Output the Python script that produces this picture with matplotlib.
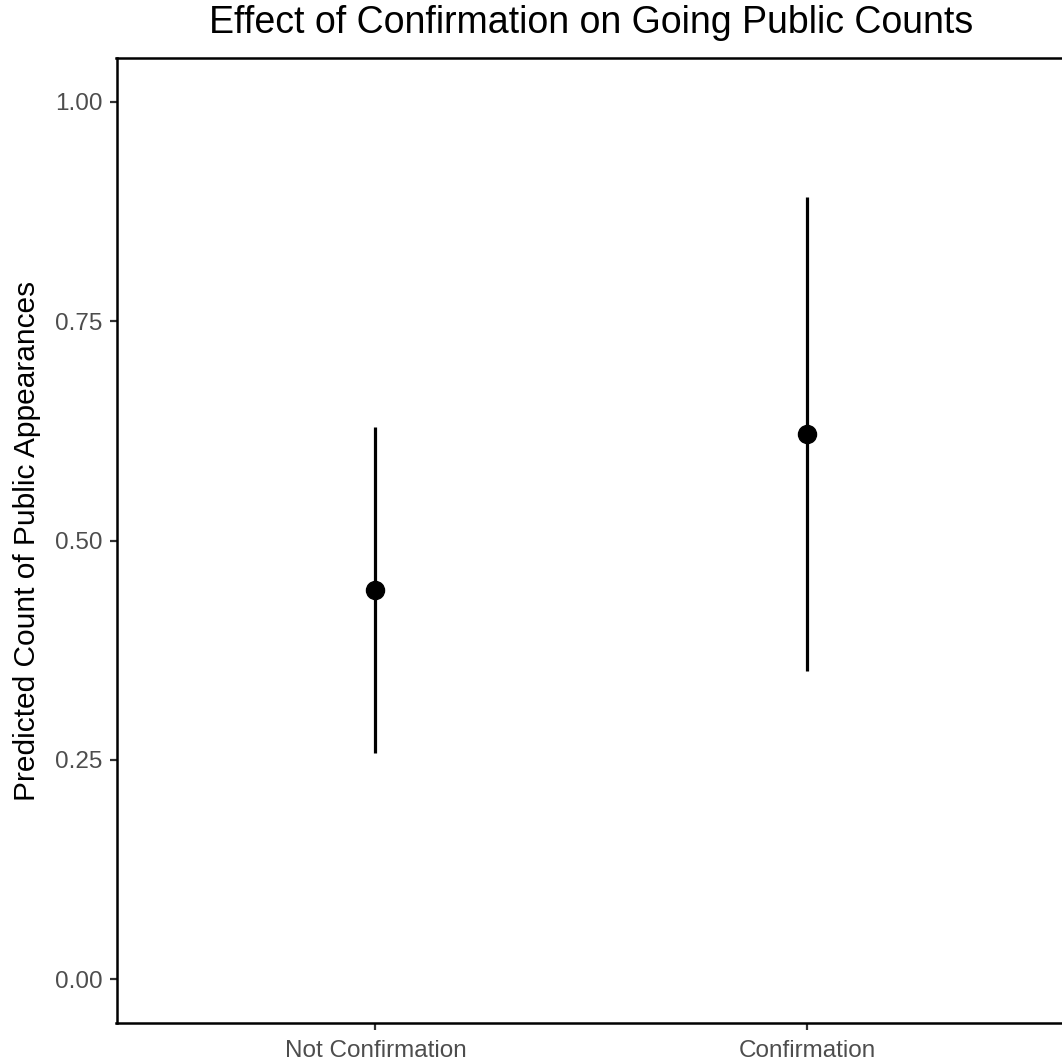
import matplotlib.pyplot as plt

plt.rcParams['font.family'] = ['Liberation Sans', 'DejaVu Sans']

groups = ['Not Confirmation', 'Confirmation']
estimate = [0.444, 0.621]
lower = [0.258, 0.351]
upper = [0.629, 0.891]
yticks = [0.00, 0.25, 0.50, 0.75, 1.00]

W, H = 1062, 1063
fig = plt.figure(figsize=(W / 100, H / 100), dpi=100)
fig.patch.set_facecolor('white')

# panel runs a little past the right edge of the canvas
left, right, top, bottom = 116.5, 1066, 58, 1023
ax = fig.add_axes([left / W, 1 - bottom / H, (right - left) / W, (bottom - top) / H])

x = list(range(1, len(groups) + 1))
ax.vlines(x, lower, upper, color='black', linewidth=2.3, zorder=2)
ax.plot(x, estimate, 'o', color='black', markersize=13, zorder=3)

ax.set_xlim(0.4, len(groups) + 0.6)
ax.set_ylim(-0.05, 1.05)
ax.set_xticks(x)
ax.set_xticklabels(groups)
ax.set_yticks(yticks)
ax.set_yticklabels([f'{v:.2f}' for v in yticks])

for s in ax.spines.values():
    s.set_color('black')
    s.set_linewidth(1.8)

ax.tick_params(axis='both', colors='#333333', length=5, width=1.6,
               labelcolor='#4d4d4d', labelsize=17.5, pad=5)
ax.tick_params(axis='x', pad=7)

ax.set_ylabel('Predicted Count of Public Appearances', fontsize=21.5, color='black', labelpad=10)
ax.set_title('Effect of Confirmation on Going Public Counts', fontsize=27, color='black', pad=18)

fig.savefig('out.png', dpi=100, facecolor='white')
